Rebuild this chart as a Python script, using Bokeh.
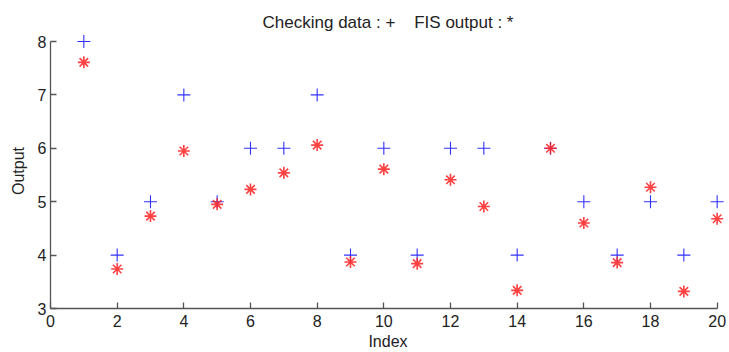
from bokeh.plotting import figure
from bokeh.models import Range1d, FixedTicker
from bokeh.embed import file_html
from bokeh.resources import INLINE

index = list(range(1, 21))
checking = [8, 4, 5, 7, 5, 6, 6, 7, 4, 6, 4, 6, 6, 4, 6, 5, 4, 5, 4, 5]
fis_output = [7.61, 3.74, 4.73, 5.95, 4.95, 5.23, 5.54, 6.06, 3.87, 5.61,
              3.84, 5.41, 4.91, 3.34, 6.00, 4.60, 3.86, 5.27, 3.32, 4.68]
x_ticks = [0, 2, 4, 6, 8, 10, 12, 14, 16, 18, 20]
y_ticks = [3, 4, 5, 6, 7, 8]

p = figure(width=729, height=352, output_backend="svg", toolbar_location=None,
           x_range=Range1d(0, 20.25), y_range=Range1d(3, 8.15),
           min_border_left=50, min_border_right=4, min_border_top=33, min_border_bottom=43,
           title="Checking data : +\u00a0\u00a0\u00a0\u00a0FIS output : *")
p.outline_line_color = None
p.grid.visible = False
p.background_fill_color = "white"

p.title.align = "center"
p.title.text_font = "Liberation Sans"
p.title.text_font_size = "17px"
p.title.text_font_style = "normal"
p.title.text_color = "#222222"
p.title.standoff = 4

for ax in (p.xaxis[0], p.yaxis[0]):
    ax.axis_line_color = "#555555"
    ax.axis_line_width = 1.3
    ax.major_tick_line_color = "#555555"
    ax.major_tick_line_width = 1.3
    ax.major_tick_in = 6
    ax.major_tick_out = 0
    ax.minor_tick_line_color = None
    ax.major_label_text_font = "Liberation Sans"
    ax.major_label_text_font_size = "16px"
    ax.major_label_text_color = "#222222"
    ax.axis_label_text_font = "Liberation Sans"
    ax.axis_label_text_font_size = "16px"
    ax.axis_label_text_font_style = "normal"
    ax.axis_label_text_color = "#222222"

p.xaxis.bounds = (0, 20)
p.yaxis.bounds = (3, 8)
p.xaxis.ticker = FixedTicker(ticks=x_ticks)
p.yaxis.ticker = FixedTicker(ticks=y_ticks)
p.xaxis.axis_label = "Index"
p.yaxis.axis_label = "Output"
p.xaxis.major_label_standoff = 6
p.yaxis.major_label_standoff = 4
p.xaxis.axis_label_standoff = 3
p.yaxis.axis_label_standoff = 8

p.scatter(index, checking, marker="cross", size=13, line_color="#3030ff", line_width=1.1)
p.scatter(index, fis_output, marker="asterisk", size=12, line_color="#ff2020", line_width=1.6, line_alpha=0.85)

open("out.html", "w").write(file_html(p, INLINE))
